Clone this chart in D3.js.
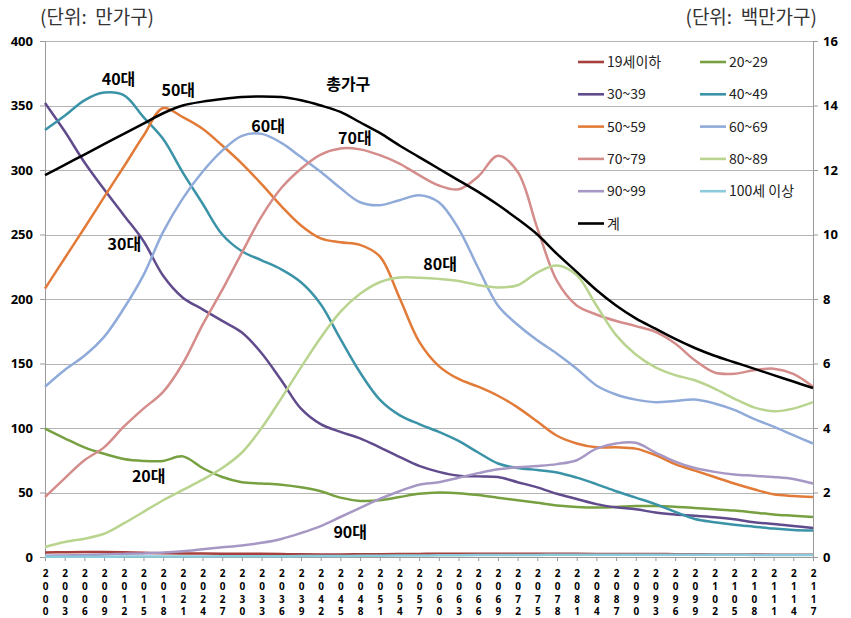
<!DOCTYPE html>
<html>
<head>
<meta charset="utf-8">
<script src="https://cdnjs.cloudflare.com/ajax/libs/d3/7.8.5/d3.min.js"></script>
<style>
  body { margin: 0; background: #fff; }
  svg { font-family: "Noto Sans CJK KR", "Noto Sans", sans-serif; }
</style>
</head>
<body>
<div id="chart"></div>
<script>
// years on the category axis (every 3 years)
var years = [2000, 2003, 2006, 2009, 2012, 2015, 2018, 2021, 2024, 2027,
             2030, 2033, 2036, 2039, 2042, 2045, 2048, 2051, 2054, 2057,
             2060, 2063, 2066, 2069, 2072, 2075, 2078, 2081, 2084, 2087,
             2090, 2093, 2096, 2099, 2102, 2105, 2108, 2111, 2114, 2117];

// households by age of head (만가구) - left axis
var age19 = [3.5, 3.7, 3.8, 3.8, 3.6, 3.3, 3.0, 2.8, 2.7, 2.6, 2.6, 2.5, 2.3, 2.1, 2.0, 2.0, 2.1, 2.2, 2.3, 2.4,
             2.5, 2.5, 2.5, 2.5, 2.5, 2.5, 2.5, 2.5, 2.4, 2.4, 2.3, 2.3, 2.2, 2.1, 2.0, 2.0, 1.9, 1.8, 1.8, 1.7];
var age20 = [99.5, 92, 85, 80, 76, 74.5, 74.5, 78, 69, 62, 58, 57, 56, 54, 51, 46, 43.5, 44, 46.5, 49,
             50, 49.5, 48, 46, 44, 42, 40, 38.8, 38.3, 38.8, 39.5, 39.5, 39, 38, 37, 36, 34.5, 33, 32, 31];
var age30 = [352, 330, 306, 285, 265, 245, 218, 201, 192, 183, 174, 158, 137, 115, 103, 97, 92, 85, 77.6, 70.6,
             66, 63, 62.5, 62, 58, 54, 49, 45, 41, 38.5, 37, 34.5, 33, 32, 30.8, 29.2, 27, 25.6, 24, 22.5];
var age40 = [331, 342, 354, 360, 358, 341, 324, 298, 274, 250, 237, 230, 223, 213, 196, 169, 143, 122, 110, 103,
             97, 90, 81, 72.5, 69, 67.5, 65.5, 61.5, 56.5, 51, 46, 41, 35, 29.5, 27, 25, 23.5, 22, 21, 20.5];
var age50 = [208, 231.6, 255, 279, 302.5, 326.5, 348, 341, 332, 319, 305, 289, 272, 257, 247, 244, 242, 233, 201, 167,
             148, 138, 132, 125, 116, 105, 94, 88, 85, 85, 84, 79, 72, 67, 62, 57, 52.5, 48.6, 47.3, 46.5];
var age60 = [132, 145, 156, 170.6, 192.6, 218.5, 252, 278, 298.6, 315, 326.5, 328, 321, 310, 298.6, 286, 275, 272.7, 276.6, 280.5,
             275, 254.6, 224, 195, 180, 168, 157.6, 146, 133, 126, 122, 120, 121, 122, 119, 114, 107, 101, 94.4, 88];
var age70 = [46.5, 61, 75, 85, 101, 115, 128, 150, 180, 207, 236, 264, 286, 301, 312, 316.7, 316, 311.5, 305, 296,
             288, 285, 295, 311, 298.6, 255, 214, 195, 188, 183, 179, 174.5, 165.5, 152.5, 143, 142, 144.8, 146, 142, 132];
var age80 = [7.8, 11.6, 14.2, 18, 26, 35, 44, 52, 60, 69, 81, 100, 123, 147, 170, 190, 204, 213, 216.6, 216.4,
             215.6, 214, 210.7, 209, 210.7, 220.5, 226, 218.5, 195, 172, 157, 147, 141, 137, 130.6, 122.8, 116, 113, 115, 120];
var age90 = [1.0, 1.2, 1.5, 2.0, 2.4, 2.8, 3.4, 4.5, 6, 7.5, 9, 11, 14, 18.6, 24, 31, 38, 45, 51, 56,
             58, 61.5, 65, 68, 69.5, 70.5, 72, 75, 84, 88, 88.5, 81, 74, 69, 66, 64, 63, 62, 60.5, 57];
var age100 = [0.2, 0.2, 0.2, 0.2, 0.3, 0.3, 0.3, 0.4, 0.4, 0.5, 0.5, 0.6, 0.6, 0.7, 0.7, 0.8, 0.9, 1.0, 1.1, 1.2,
              1.3, 1.4, 1.5, 1.5, 1.6, 1.6, 1.7, 1.7, 1.7, 1.8, 1.8, 1.8, 1.8, 1.7, 1.7, 1.7, 1.6, 1.6, 1.6, 1.5];

// total households (백만가구) - right axis
var total = [11.84, 12.16, 12.48, 12.8, 13.12, 13.44, 13.76, 14.0, 14.12, 14.2, 14.26, 14.28, 14.26, 14.16, 14.0, 13.8, 13.48, 13.15, 12.76, 12.4,
             12.04, 11.68, 11.32, 10.92, 10.48, 10.0, 9.4, 8.84, 8.28, 7.8, 7.4, 7.08, 6.76, 6.48, 6.24, 6.04, 5.84, 5.64, 5.44, 5.24];

var seriesNames = ["19세이하", "20~29", "30~39", "40~49", "50~59", "60~69", "70~79", "80~89", "90~99", "100세 이상", "계"];
var seriesColors = ["#a5403d", "#77a041", "#604b8c", "#3b93a8", "#e27b38", "#90abd9", "#d48d8b", "#b9d48f", "#a797c4", "#8ccbdc", "#000000"];
var leftTicks = [0, 50, 100, 150, 200, 250, 300, 350, 400];
var rightTicks = [0, 2, 4, 6, 8, 10, 12, 14, 16];

// text labels inside the plot: [label, year position, left-axis value]
var annoLabels = ["40대", "50대", "30대", "20대", "총가구", "60대", "70대", "80대", "90대"];
var annoYears  = [2011.2, 2020.3, 2012.1, 2015.8, 2046.2, 2034.0, 2047.2, 2060.2, 2046.5];
var annoValues = [366, 357, 238, 58.4, 362, 329.5, 320, 222.5, 14.7];

var ageData = [age19, age20, age30, age40, age50, age60, age70, age80, age90, age100];

var W = 851, H = 618;
var margin = {top: 41, bottom: 61, left: 45, right: 38};
var width = W - margin.left - margin.right;
var height = H - margin.top - margin.bottom;

var svg = d3.select("#chart").append("svg")
    .attr("width", W)
    .attr("height", H);

var g = svg.append("g")
    .attr("transform", "translate(" + margin.left + "," + margin.top + ")");

var x = d3.scaleLinear().domain([years[0], years[years.length - 1]]).range([0, width]);
var yL = d3.scaleLinear().domain([0, 400]).range([height, 0]);
var yR = d3.scaleLinear().domain([0, 16]).range([height, 0]);

// gridlines
g.append("g").attr("class", "grid")
    .selectAll("line")
    .data(leftTicks.slice(1))
    .join("line")
    .attr("x1", 0).attr("x2", width)
    .attr("y1", function(d) { return Math.round(yL(d)) + 0.5; })
    .attr("y2", function(d) { return Math.round(yL(d)) + 0.5; })
    .style("stroke", "#b4b4b4")
    .style("stroke-width", 1);

// left axis
var axisL = g.append("g").call(d3.axisLeft(yL).tickValues(leftTicks).tickSize(5).tickPadding(7));
axisL.select(".domain").style("stroke", "#9a9a9a");
axisL.selectAll(".tick line").style("stroke", "#9a9a9a");
axisL.selectAll("text")
    .style("font-size", "13px").style("font-weight", "bold").style("fill", "#000")
    .style("font-family", "'Noto Sans', 'DejaVu Sans', sans-serif");

// right axis
var axisR = g.append("g").attr("transform", "translate(" + width + ",0)")
    .call(d3.axisRight(yR).tickValues(rightTicks).tickSize(5).tickPadding(5));
axisR.select(".domain").style("stroke", "#9a9a9a");
axisR.selectAll(".tick line").style("stroke", "#9a9a9a");
axisR.selectAll("text")
    .style("font-size", "13px").style("font-weight", "bold").style("fill", "#000")
    .style("font-family", "'Noto Sans', 'DejaVu Sans', sans-serif");

// bottom axis with stacked digits
var axisB = g.append("g").attr("transform", "translate(0," + height + ")")
    .call(d3.axisBottom(x).tickValues(years).tickSize(4).tickFormat(""));
axisB.select(".domain").style("stroke", "#9a9a9a");
axisB.selectAll(".tick line").style("stroke", "#9a9a9a");
axisB.selectAll(".tick").each(function(d) {
    var t = d3.select(this).append("text")
        .attr("text-anchor", "middle")
        .style("font-size", "10px").style("font-weight", "bold").style("fill", "#000")
        .style("font-family", "'Noto Sans', 'DejaVu Sans', sans-serif");
    String(d).split("").forEach(function(ch, k) {
        t.append("tspan").attr("x", 0).attr("y", 20 + k * 12.8).text(ch);
    });
});

// lines
var lineL = d3.line()
    .x(function(d, i) { return x(years[i]); })
    .y(function(d) { return yL(d); })
    .curve(d3.curveCatmullRom.alpha(0.5));

var lineR = d3.line()
    .x(function(d, i) { return x(years[i]); })
    .y(function(d) { return yR(d); })
    .curve(d3.curveCatmullRom.alpha(0.5));

g.append("g").attr("class", "series")
    .selectAll("path")
    .data(ageData)
    .join("path")
    .attr("d", lineL)
    .style("fill", "none")
    .style("stroke", function(d, i) { return seriesColors[i]; })
    .style("stroke-width", 2.5);

g.append("path")
    .datum(total)
    .attr("d", lineR)
    .style("fill", "none")
    .style("stroke", seriesColors[10])
    .style("stroke-width", 2.5);

// annotations
g.append("g").attr("class", "anno")
    .selectAll("text")
    .data(annoLabels)
    .join("text")
    .attr("x", function(d, i) { return x(annoYears[i]); })
    .attr("y", function(d, i) { return yL(annoValues[i]); })
    .attr("text-anchor", "middle")
    .style("font-size", "16px")
    .style("font-weight", "bold")
    .style("fill", "#000")
    .text(function(d) { return d; });

// legend
var legend = svg.append("g").attr("class", "legend")
    .attr("transform", "translate(578,62)");

var item = legend.selectAll("g")
    .data(seriesNames)
    .join("g")
    .attr("transform", function(d, i) {
        return "translate(" + (i % 2) * 122 + "," + Math.floor(i / 2) * 32.3 + ")";
    });

item.append("line")
    .attr("x1", 0).attr("x2", 26).attr("y1", 0).attr("y2", 0)
    .style("stroke", function(d, i) { return seriesColors[i]; })
    .style("stroke-width", 2.6);

item.append("text")
    .attr("x", 29).attr("y", 5)
    .style("font-size", "14px")
    .style("fill", "#222")
    .text(function(d) { return d; });

// unit captions
svg.append("text")
    .attr("x", 40).attr("y", 24)
    .style("font-size", "19px").style("fill", "#333")
    .style("white-space", "pre")
    .text("(단위:  만가구)");

svg.append("text")
    .attr("x", 817).attr("y", 24)
    .attr("text-anchor", "end")
    .style("font-size", "19px").style("fill", "#333")
    .style("white-space", "pre")
    .text("(단위:  백만가구)");
</script>
</body>
</html>
